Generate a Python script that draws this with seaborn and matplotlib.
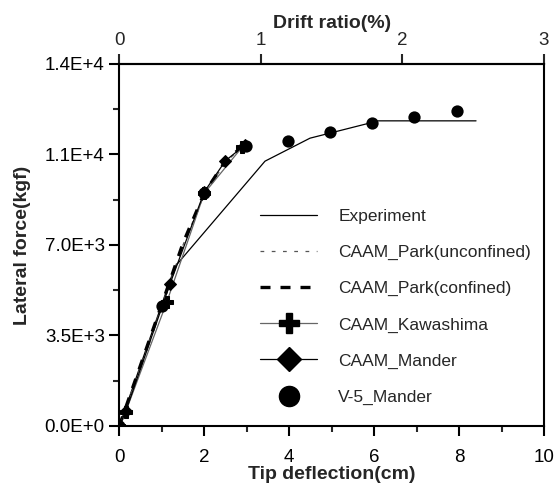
import matplotlib
matplotlib.use("Agg")
import matplotlib.pyplot as plt
from matplotlib.lines import Line2D
import seaborn as sns
import numpy as np

# ---- data ----
exp_x = [0.0, 1.31, 3.43, 4.49, 6.10, 8.40]
exp_y = [0, 6160, 10240, 11130, 11800, 11800]

park_unc_x = [0.0, 0.5, 1.0, 1.5, 2.0, 2.5, 2.9]
park_unc_y = [0, 2300, 4650, 7000, 8950, 10200, 10800]

park_con_x = [0.0, 0.5, 1.0, 1.5, 2.0, 2.5, 2.95]
park_con_y = [0, 2350, 4700, 7070, 9000, 10250, 10880]

kawa_x = [0.0, 0.15, 1.12, 2.0, 2.9]
kawa_y = [0, 550, 4800, 9000, 10800]

mander_x = [0.0, 0.15, 1.19, 2.0, 2.5, 2.95]
mander_y = [0, 560, 5480, 9050, 10260, 10850]

v5_x = [0.0, 1.0, 2.0, 2.98, 3.98, 4.96, 5.96, 6.94, 7.94]
v5_y = [0, 4640, 9020, 10830, 11020, 11380, 11710, 11960, 12190]

y_ticks = [0, 3500, 7000, 10500, 14000]
y_tick_labels = ["0.0E+0", "3.5E+3", "7.0E+3", "1.1E+4", "1.4E+4"]
x_ticks = [0, 2, 4, 6, 8, 10]
drift_ticks = [0, 1, 2, 3]

sns.set_style("ticks")
plt.rcParams["font.family"] = ["Liberation Sans", "DejaVu Sans"]

fig = plt.figure(figsize=(5.56, 4.86), dpi=100)
ax = fig.add_axes([0.2146, 0.1235, 0.7638, 0.7449])

unc_dash = (0, (3, 6))
con_dash = (0, (3, 3))

sns.lineplot(x=exp_x, y=exp_y, ax=ax, color="black", lw=0.9,
             sort=False, estimator=None, legend=False)
sns.lineplot(x=park_unc_x, y=park_unc_y, ax=ax, color="#555555", lw=0.9,
             linestyle=unc_dash, sort=False, estimator=None, legend=False)
sns.lineplot(x=park_con_x, y=park_con_y, ax=ax, color="black", lw=2.4,
             linestyle=con_dash, sort=False, estimator=None, legend=False)
sns.lineplot(x=kawa_x, y=kawa_y, ax=ax, color="#666666", lw=0.9,
             marker="P", markersize=8, markerfacecolor="black", markeredgecolor="black",
             sort=False, estimator=None, legend=False)
sns.lineplot(x=mander_x, y=mander_y, ax=ax, color="black", lw=0.9,
             marker="D", markersize=6, markerfacecolor="black", markeredgecolor="black",
             sort=False, estimator=None, legend=False)
sns.scatterplot(x=v5_x, y=v5_y, ax=ax, color="black", marker="o", s=78,
                edgecolor="black", linewidth=0, legend=False, zorder=5)

ax.set_xlim(0, 10)
ax.set_ylim(0, 14000)
ax.set_xticks(x_ticks)
ax.set_xticks([1, 3, 5, 7, 9], minor=True)
ax.set_yticks(y_ticks)
ax.set_yticklabels(y_tick_labels)
ax.set_yticks([1750, 5250, 8750, 12250], minor=True)

for s in ax.spines.values():
    s.set_visible(True)
    s.set_linewidth(1.5)
    s.set_color("black")

ax.tick_params(axis="both", which="major", direction="out", length=7.5, width=1.5,
               labelsize=13.5, colors="black")
ax.tick_params(axis="both", which="minor", direction="out", length=4, width=1.5)
ax.tick_params(axis="x", which="major", pad=9)
ax.tick_params(axis="y", which="major", pad=3)
ax.tick_params(top=False, right=False, which="both")

ax.set_xlabel("Tip deflection(cm)", fontsize=14, fontweight="bold")
ax.xaxis.set_label_coords(0.5, -0.135)
ax.xaxis.label.set_va("center")
ax.set_ylabel("Lateral force(kgf)", fontsize=14, fontweight="bold")
ax.yaxis.set_label_coords(-0.229, 0.5)
ax.yaxis.label.set_va("center")

sec = ax.secondary_xaxis("top", functions=(lambda x: x * 0.3, lambda x: x / 0.3))
sec.set_xticks(drift_ticks)
sec.tick_params(axis="x", direction="out", length=7.5, width=1.5, labelsize=13.5, pad=3)
sec.spines["top"].set_linewidth(1.5)
sec.set_xlabel("Drift ratio(%)", fontsize=14, fontweight="bold", labelpad=3)

handles = [
    Line2D([], [], color="black", lw=0.9),
    Line2D([], [], color="#555555", lw=0.9, linestyle=unc_dash),
    Line2D([], [], color="black", lw=2.4, linestyle=con_dash),
    Line2D([], [], color="#666666", lw=0.9, marker="P", markersize=14,
           markerfacecolor="black", markeredgecolor="black"),
    Line2D([], [], color="black", lw=0.9, marker="D", markersize=12,
           markerfacecolor="black", markeredgecolor="black"),
    Line2D([], [], color="black", lw=0, marker="o", markersize=14.5,
           markerfacecolor="black", markeredgecolor="black"),
]
labels = ["Experiment", "CAAM_Park(unconfined)", "CAAM_Park(confined)",
          "CAAM_Kawashima", "CAAM_Mander", "V-5_Mander"]
ax.legend(handles, labels, loc="upper left",
          bbox_to_anchor=(260 / 556, 1 - 209 / 486), bbox_transform=fig.transFigure,
          frameon=False, fontsize=12.5, handlelength=3.3, handletextpad=1.2,
          labelspacing=1.2, borderpad=0, borderaxespad=0)

fig.savefig("out.png", dpi=100)
